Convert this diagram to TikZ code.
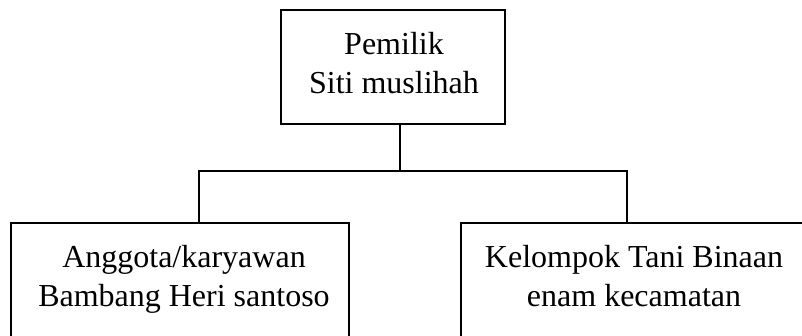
\documentclass[tikz,border=0pt]{standalone}
\usepackage{fontspec}
\setmainfont{Liberation Serif}
\tikzset{
  box/.style={draw=black, line width=1.2pt, inner sep=0pt},
  lbl/.style={align=center, inner sep=0pt, font=\fontsize{32}{39}\selectfont, anchor=north},
  conn/.style={draw=black, line width=1.2pt}
}
\begin{document}
\begin{tikzpicture}[x=1pt,y=-1pt]
\clip (0,0) rectangle (802,335);
\node[box, minimum width=224pt, minimum height=114pt] (top) at (393,67) {};
\node[box, minimum width=338pt, minimum height=130pt] (left) at (180,288) {};
\node[box, minimum width=374pt, minimum height=130pt] (right) at (648,288) {};
\node[lbl] (toptext) at (394,32) {Pemilik\\Siti muslihah};
\node[lbl] (lefttext) at (184,245) {Anggota/karyawan\\Bambang Heri santoso};
\node[lbl] (righttext) at (634,245) {Kelompok Tani Binaan\\enam kecamatan};
\coordinate (j) at (400,171);
\coordinate (jl) at (199,171);
\coordinate (jr) at (627,171);
\draw[conn] (top.south -| j) -- (j);
\draw[conn] (left.north -| jl) -- (jl) -- (jr) -- (right.north -| jr);
\end{tikzpicture}
\end{document}
